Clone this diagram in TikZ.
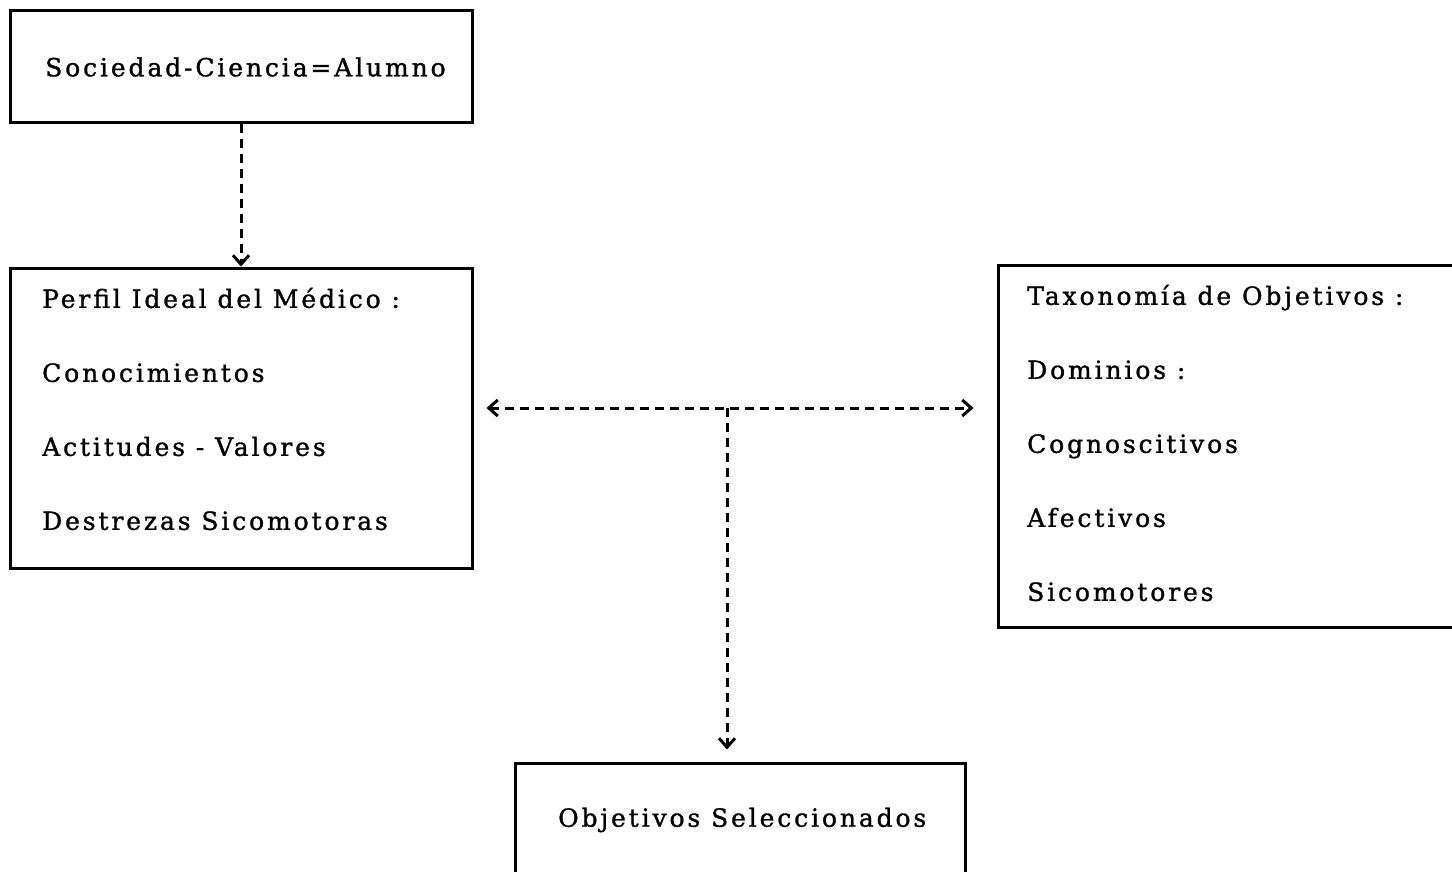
\documentclass[tikz,border=0pt]{standalone}
\usepackage{fontspec}
\setmainfont[LetterSpace=11.5,FakeBold=1.2]{DejaVu Serif}
\usetikzlibrary{positioning,arrows.meta,calc}
\begin{document}
\begin{tikzpicture}[x=1pt,y=-1pt,
box/.style={draw,line width=3pt,inner sep=0pt},
txt/.style={anchor=west,inner sep=0pt,align=left,font=\fontsize{25}{74}\selectfont},
arr/.style={dash pattern=on 9pt off 6pt,line width=3pt,-{Straight Barb[length=9pt,width=16pt]}}]
\useasboundingbox (0,0) rectangle (1452,871);
\clip (0,0) rectangle (1452,871);
\node[box,minimum width=462pt,minimum height=112pt] (soc) at (241,66) {};
\node[box,minimum width=462pt,minimum height=300pt] (perfil) at (241,418) {};
\node[box,minimum width=482pt,minimum height=362pt] (taxo) at (1239,446) {};
\node[box,minimum width=450pt,minimum height=116pt] (objsel) at (740,821) {};
\node[txt] (soctxt) at (45,67) {Sociedad-Ciencia=Alumno};
\node[txt] (perfiltxt) at (42,409) {Perfil Ideal del Médico :\\Conocimientos\\Actitudes - Valores\\Destrezas Sicomotoras};
\node[txt] (taxotxt) at (1027,443) {Taxonomía de Objetivos :\\Dominios :\\Cognoscitivos\\Afectivos\\Sicomotores};
\node[txt] (objseltxt) at (558,820) {Objetivos Seleccionados};
\coordinate (mid) at (727,408);
\draw[arr] (soc) -- (perfil);
\draw[arr,{Straight Barb[length=9pt,width=16pt]}-{Straight Barb[length=9pt,width=16pt]},shorten <=13pt,shorten >=23pt] (perfil.east |- mid) -- (taxo.west |- mid);
\draw[arr,shorten >=12pt] (mid) -- (objsel.north -| mid);
\end{tikzpicture}
\end{document}
